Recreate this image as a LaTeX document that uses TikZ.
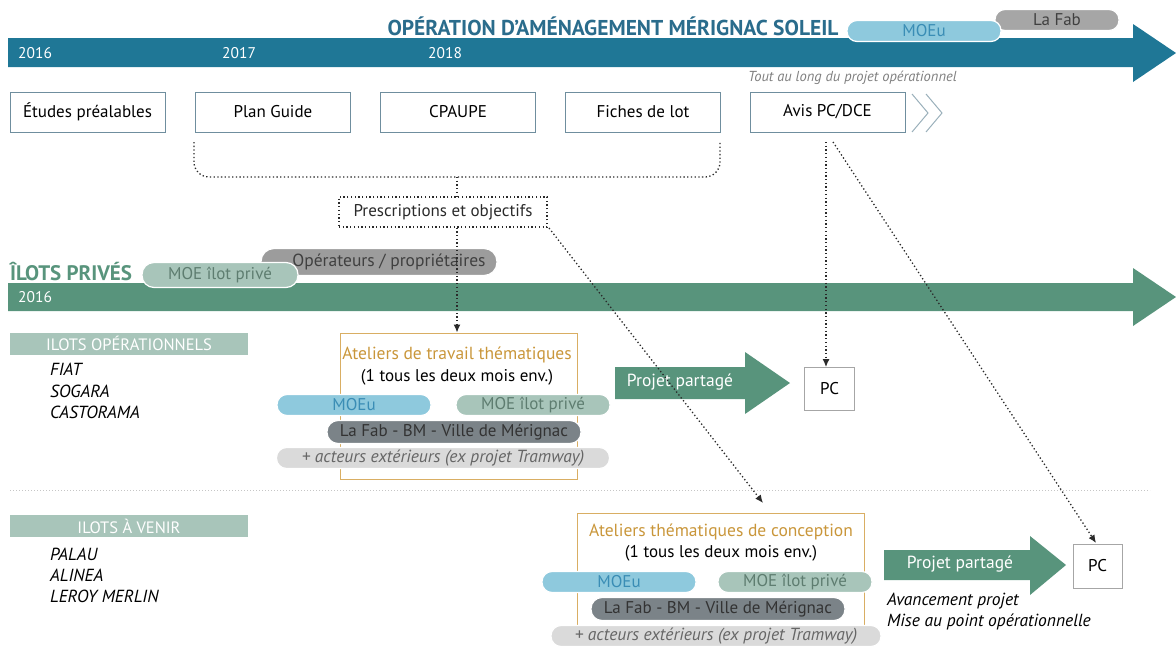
\documentclass[tikz,border=0pt]{standalone}
\usepackage{fontspec}
\setmainfont{PT Sans}
\usetikzlibrary{arrows.meta}
\definecolor{bandblue}{HTML}{1F7796}
\definecolor{titleblue}{HTML}{2A6C8C}
\definecolor{bandgreen}{HTML}{58947C}
\definecolor{sage}{HTML}{A8C5BA}
\definecolor{sagetext}{HTML}{5E7D70}
\definecolor{moeu}{HTML}{8EC9DD}
\definecolor{moeutext}{HTML}{3A8DB5}
\definecolor{fabgray}{HTML}{A6A6A6}
\definecolor{opgray}{HTML}{9C9C9C}
\definecolor{darkpill}{HTML}{7B8388}
\definecolor{lightpill}{HTML}{DADADA}
\definecolor{boxborder}{HTML}{6F8E9E}
\definecolor{gold}{HTML}{D9AE63}
\definecolor{goldtext}{HTML}{C9963A}
\definecolor{dotcol}{HTML}{2A2A2A}
\tikzset{
  stagebox/.style={draw=boxborder, line width=0.9pt, minimum width=155, minimum height=40, inner sep=0, font=\fontsize{17}{19}\selectfont},
  pill/.style={rounded corners=10pt, draw=white, line width=1.2pt, minimum height=21, inner sep=0, font=\fontsize{17}{19}\selectfont},
  labelbar/.style={fill=sage, minimum width=238, minimum height=22, inner sep=0, text=white, font=\fontsize{16.5}{18}\selectfont},
  listtext/.style={anchor=west, inner sep=0, font=\fontsize{17.5}{19}\selectfont\itshape},
  atelier/.style={draw=gold, line width=0.9pt, inner sep=0},
  pcbox/.style={draw=gray!70, line width=0.8pt, minimum width=50, minimum height=43, inner sep=0, font=\fontsize{17}{19}\selectfont},
  dotline/.style={dotcol, line width=1.3pt, dash pattern=on 1.3pt off 2.4pt},
  dotarrow/.style={dotline, -{Latex[length=8pt,width=7pt]}},
  yeartext/.style={text=white, font=\fontsize{15.5}{17}\selectfont, anchor=west, inner sep=0},
  attitle/.style={text=goldtext, font=\fontsize{17.5}{19}\selectfont, inner sep=0},
  atsub/.style={font=\fontsize{17}{19}\selectfont, inner sep=0},
  bigarrowtext/.style={text=white, font=\fontsize{17.5}{19}\selectfont, inner sep=0},
}
\begin{document}
\begin{tikzpicture}[x=1pt,y=-1pt]
\useasboundingbox (0,0) rectangle (1176,646);

% ---------- top blue band
\fill[bandblue] (8,38) -- (1133,38) -- (1133,24) -- (1176,53) -- (1133,82) -- (1133,67) -- (8,67) -- cycle;
\node[text=titleblue, font=\fontsize{21.5}{24}\selectfont\bfseries] (title) at (613,26) {OPÉRATION D’AMÉNAGEMENT MÉRIGNAC SOLEIL};
\node[yeartext] (y16) at (18,53) {2016};
\node[yeartext] (y17) at (222,53) {2017};
\node[yeartext] (y18) at (428,53) {2018};
\node[pill, fill=fabgray, minimum width=124, text=black!75] (lafabtop) at (1057,20) {La Fab};
\node[pill, fill=moeu, minimum width=154, text=moeutext] (moeutop) at (924,31) {MOEu};

% ---------- stage boxes
\node[stagebox] (etudes) at (87.5,112) {Études préalables};
\node[stagebox] (plan) at (273,112) {Plan Guide};
\node[stagebox] (cpaupe) at (458,112) {CPAUPE};
\node[stagebox] (fiches) at (643,112) {Fiches de lot};
\node[stagebox] (avis) at (827.5,112) {Avis PC/DCE};
\node[text=gray, font=\fontsize{14.5}{16}\selectfont\itshape, anchor=west, inner sep=0] (tout) at (748,78) {Tout au long du projet opérationnel};
\draw[boxborder!70, line width=1pt] (912,94) -- (928,113) -- (912,132);
\draw[boxborder!70, line width=1pt] (926,94) -- (942,113) -- (926,132);

% ---------- bracket and prescriptions
\coordinate (bl) at (194,142);
\coordinate (br) at (720,142);
\coordinate (bm) at (457,177);
\draw[dotline, rounded corners=15pt] (bl) -- (194,177) -- (720,177) -- (br);
\node[draw=dotcol, dotline, minimum width=208, minimum height=30, inner sep=0, font=\fontsize{17}{19}\selectfont] (presc) at (443,212) {Prescriptions et objectifs};
\draw[dotline] (bm) -- (bm |- presc.north);

% ---------- green band
\fill[bandgreen] (8,283) -- (1133,283) -- (1133,268) -- (1176,297) -- (1133,326) -- (1133,311) -- (8,311) -- cycle;
\node[text=bandgreen, font=\fontsize{21}{24}\selectfont\bfseries, anchor=west, inner sep=0] (ilots) at (10,272) {ÎLOTS PRIVÉS};
\node[yeartext] (g16) at (18,297) {2016};
\node[pill, fill=opgray, minimum width=236, minimum height=27, rounded corners=13pt, text=black!75, font=\fontsize{17.5}{20}\selectfont] (oper) at (379,262) {\hspace*{20pt}Opérateurs / propriétaires};
\node[pill, fill=sage, minimum width=156, minimum height=25, rounded corners=12pt, text=sagetext] (moeip) at (220,275) {MOE îlot privé};

% ---------- ilots operationnels
\node[labelbar] (opbar) at (129,343.5) {ILOTS OPÉRATIONNELS};
\node[listtext] (fiat) at (50,369) {FIAT};
\node[listtext] (sogara) at (50,391) {SOGARA};
\node[listtext] (casto) at (50,412) {CASTORAMA};

\node[atelier, minimum width=237, minimum height=146] (at1) at (458.5,406) {};
\node[attitle] (at1t) at (457,355) {Ateliers de travail thématiques};
\node[atsub] (at1s) at (457,377) {(1 tous les deux mois env.)};
\node[pill, fill=moeu, minimum width=154, text=moeutext] (at1moeu) at (354,405) {MOEu};
\node[pill, fill=sage, minimum width=154, text=sagetext] (at1moe) at (533,405) {MOE îlot privé};
\node[pill, fill=darkpill, minimum width=254, minimum height=23, rounded corners=11pt, text=black!80] (at1fab) at (454,432) {La Fab - BM - Ville de Mérignac};
\node[pill, fill=lightpill, minimum width=333, text=black!60, font=\fontsize{17.5}{19}\selectfont\itshape] (at1ext) at (443,458) {+ acteurs extérieurs (ex projet Tramway)};

\fill[bandgreen] (615,367) -- (745,367) -- (745,352) -- (790,383) -- (745,414) -- (745,399) -- (615,399) -- cycle;
\node[bigarrowtext] (pp1) at (680,382) {Projet partagé};
\node[pcbox] (pc1) at (829.5,389) {PC};

% ---------- separator
\draw[gray!45, line width=1pt, dash pattern=on 1pt off 2pt] (10,490) -- (1150,490);

% ---------- ilots a venir
\node[labelbar] (avbar) at (129,526) {ILOTS À VENIR};
\node[listtext] (palau) at (50,554) {PALAU};
\node[listtext] (alinea) at (50,575) {ALINEA};
\node[listtext] (leroy) at (50,596) {LEROY MERLIN};

\node[atelier, minimum width=287, minimum height=150] (at2) at (720.5,588) {};
\node[attitle] (at2t) at (721,532) {Ateliers thématiques de conception};
\node[atsub] (at2s) at (721,553) {(1 tous les deux mois env.)};
\node[pill, fill=moeu, minimum width=154, text=moeutext] (at2moeu) at (619,582) {MOEu};
\node[pill, fill=sage, minimum width=154, text=sagetext] (at2moe) at (795,582) {MOE îlot privé};
\node[pill, fill=darkpill, minimum width=254, minimum height=23, rounded corners=11pt, text=black!80] (at2fab) at (718,609) {La Fab - BM - Ville de Mérignac};
\node[pill, fill=lightpill, minimum width=330, text=black!60, font=\fontsize{17.5}{19}\selectfont\itshape] (at2ext) at (716,636) {+ acteurs extérieurs (ex projet Tramway)};

\fill[bandgreen] (884,550) -- (1030,550) -- (1030,536) -- (1066,565) -- (1030,595) -- (1030,580) -- (884,580) -- cycle;
\node[bigarrowtext] (pp2) at (960,564) {Projet partagé};
\node[pcbox, minimum width=49, minimum height=44] (pc2) at (1097.5,566) {PC};
\node[listtext] (avance) at (887,601) {Avancement projet};
\node[listtext] (miseau) at (887,622) {Mise au point opérationnelle};

% ---------- dotted connectors
\coordinate (avisv) at (826,142);
\coordinate (avisd) at (833,142);
\coordinate (prescd) at (549,228);
\draw[dotarrow] (presc.south -| bm) -- (bm |- at1.north);
\draw[dotarrow] (prescd) -- (763,503);
\draw[dotarrow] (avisv) -- (avisv |- pc1.north);
\draw[dotarrow] (avisd) -- (1096,543);
\end{tikzpicture}
\end{document}
